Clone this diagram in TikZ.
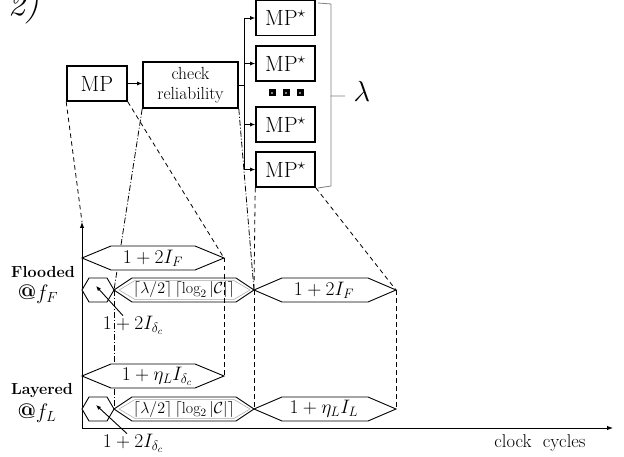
\RequirePackage{fix-cm}
\documentclass[tikz,border=0pt]{standalone}
\usepackage{amsmath,amssymb}
\usepackage{fontspec}
\usetikzlibrary{arrows.meta,calc}
\newcommand\hexg[7]{%
  \path[#7] (#2,#4) -- ({#2+#5},{#4-#6}) -- ({#3-#5},{#4-#6}) -- (#3,#4) -- ({#3-#5},{#4+#6}) -- ({#2+#5},{#4+#6}) -- cycle;
}
\begin{document}
\begin{tikzpicture}[x=1pt,y=-1pt,
  box/.style={draw,line width=1.6pt,inner sep=0pt,font=\fontsize{22}{26}\selectfont},
  mpbox/.style={box,minimum width=59pt,minimum height=35pt},
  conn/.style={line width=0.9pt,-{Latex[length=5pt,width=4pt]}},
  hexline/.style={draw,line width=0.9pt,fill=white},
  hexgray/.style={draw=gray!70,line width=0.5pt},
  dsh/.style={line width=0.8pt,dash pattern=on 4.5pt off 3.5pt},
  dshd/.style={line width=0.8pt,dash pattern=on 6pt off 2pt on 1pt off 2pt},
  hext/.style={inner sep=0pt,font=\fontsize{19.5}{22}\selectfont},
  lamt/.style={inner sep=0pt,font=\fontsize{16}{18}\selectfont},
  lab/.style={inner sep=0pt,font=\fontsize{19.5}{22}\selectfont},
  atlab/.style={inner sep=0pt,font=\fontsize{21}{24}\selectfont},
  rowlab/.style={inner sep=0pt,font=\bfseries\fontsize{16}{18}\selectfont},
  axis/.style={line width=0.9pt,-{Latex[length=6pt,width=4.5pt]}}]
\useasboundingbox (0,0) rectangle (624,457);

% title
\node[anchor=base west,inner sep=0pt,font=\fontsize{34}{36}\selectfont\itshape] (ttl) at (8,16) {2)};

% top blocks
\node[box,minimum width=60pt,minimum height=35pt] (mp) at (97,83.5) {MP};
\node[box,minimum width=95pt,minimum height=46pt,align=center,font=\fontsize{17.5}{20}\selectfont] (chk) at (190.5,85) {check\\reliability};
\node[mpbox] (s1) at (285.5,18) {MP$^\star$};
\node[mpbox] (s2) at (285.5,63.5) {MP$^\star$};
\node[mpbox] (s3) at (285.5,124.5) {MP$^\star$};
\node[mpbox] (s4) at (285.5,169.5) {MP$^\star$};
\draw[conn] (mp.east) -- (chk.west |- mp.east);
\coordinate (trunk) at (244,0);
\draw[line width=0.9pt] (chk.east) -- (chk.east -| trunk);
\draw[line width=0.9pt] (trunk |- s1) -- (trunk |- s4);
\foreach \s in {s1,s2,s3,s4} \draw[conn] (trunk |- \s) -- (\s.west);
\foreach \x in {272,286,300} {
  \fill (\x-3.5,89.5) rectangle ++(7,7);
  \fill[gray] (\x-1,92) rectangle ++(2,2);
}
% brace
\coordinate (bt) at (318,3);
\coordinate (bb) at (318,188);
\coordinate (btip) at (345,96);
\draw[gray,line width=0.8pt] (bt) -- (331,4) -- (331,96) -- (btip);
\draw[gray,line width=0.8pt] (331,96) -- (331,186) -- (bb);
\node[inner sep=0pt,font=\fontsize{29}{31}\selectfont] (lam) at (362,91) {$\lambda$};

% axes
\coordinate (O) at (82,428);
\coordinate (ytop) at (82,222);
\coordinate (xend) at (613,428);
\draw[axis] (O) -- (ytop);
\draw[axis] (O) -- (xend);
\node[inner sep=0pt,font=\fontsize{18.5}{20}\selectfont] (cc) at (540,443) {clock\ \ cycles};
\node[rowlab] (fl) at (43,272) {Flooded};
\node[atlab] (atF) at (38,294) {\textbf{@}$f_F$};
\node[rowlab] (ly) at (42,391) {Layered};
\node[atlab] (atL) at (37,413) {\textbf{@}$f_L$};

% hexagon tips
\coordinate (F1-l) at (82,258);  \coordinate (F1-r) at (224,258);
\coordinate (Fs-l) at (82,290);  \coordinate (Fs-r) at (114,290);
\coordinate (J)    at (254,290); \coordinate (F2-r) at (396,290);
\coordinate (L1-l) at (82,376);  \coordinate (L1-r) at (224,376);
\coordinate (Ls-l) at (82,409);  \coordinate (Ls-r) at (114,409);
\coordinate (JL)   at (254,409); \coordinate (L2-r) at (396,409);

% projection lines (behind)
\draw[dsh] (mp.south west) -- (ytop);
\draw[dsh] (mp.south east) -- (F1-r);
\draw[dshd] (chk.south west) -- (Fs-r);
\draw[dshd] (chk.south east) -- (J);
\draw[dsh] (s4.south west) -- (J);
\draw[dsh] (s4.south east) -- (F2-r);
\draw[dshd] (Fs-r) -- (Ls-r);

% hexagons
\hexg{F1}{82}{224}{258}{29}{12}{hexline}
\hexg{Fs}{82}{114}{290}{7}{12}{hexline}
\hexg{Fl}{114}{254}{290}{18}{12}{hexline}
\hexg{Flg}{119}{250}{290}{16}{9.5}{hexgray}
\hexg{F2}{254}{396}{290}{28}{12}{hexline}
\hexg{L1}{82}{224}{376}{29}{12}{hexline}
\hexg{Ls}{82}{114}{409}{7}{12}{hexline}
\hexg{Ll}{114}{254}{409}{18}{12}{hexline}
\hexg{Llg}{119}{250}{409}{16}{9.5}{hexgray}
\hexg{L2}{254}{396}{409}{28}{12}{hexline}

\node[hext] (tF1) at (153,258) {$1+2I_F$};
\node[lamt] (tFl) at (184,290) {$\lceil\lambda/2\rceil\,\lceil\log_2|\mathcal{C}|\rceil$};
\node[hext] (tF2) at (324,290) {$1+2I_F$};
\node[hext] (tL1) at (157,376) {$1+\eta_L I_{\delta_c}$};
\node[lamt] (tLl) at (184,409) {$\lceil\lambda/2\rceil\,\lceil\log_2|\mathcal{C}|\rceil$};
\node[hext] (tL2) at (324,409) {$1+\eta_L I_L$};

% vertical dashed lines (front)
\draw[dsh] (F1-r) -- (L1-r);
\draw[dsh] (J) -- (JL);
\draw[dsh] (F2-r) -- (L2-r);

% small-hexagon labels
\coordinate (Fs-p) at (96,286);
\coordinate (Ls-p) at (96,405);
\node[lab] (dF) at (133,325) {$1+2I_{\delta_c}$};
\node[lab] (dL) at (133,443) {$1+2I_{\delta_c}$};
\draw[conn] ($(dF.north)+(-10,0)$) -- (Fs-p);
\draw[conn] ($(dL.north)+(-6,0)$) -- (Ls-p);
\end{tikzpicture}
\end{document}
